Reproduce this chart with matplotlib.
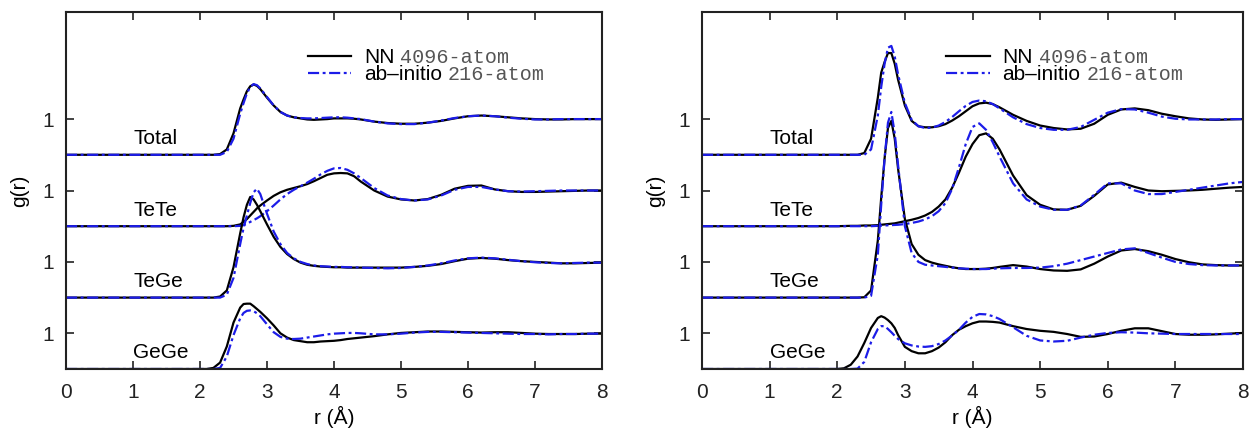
import matplotlib
matplotlib.use('Agg')
import matplotlib.pyplot as plt
import numpy as np

plt.rcParams['font.family'] = ['Liberation Sans', 'DejaVu Sans']

# common r grid (Angstrom)
r = [0.0, 2.0, 2.1, 2.2, 2.3, 2.4, 2.5, 2.6, 2.65, 2.7, 2.75, 2.8, 2.85, 2.9, 3.0, 3.1,
     3.2, 3.3, 3.4, 3.5, 3.6, 3.7, 3.8, 3.9, 4.0, 4.1, 4.2, 4.3, 4.4, 4.6, 4.8, 5.0,
     5.2, 5.4, 5.6, 5.8, 6.0, 6.2, 6.4, 6.6, 6.8, 7.0, 7.2, 7.4, 7.6, 7.8, 8.0]

partials = ['Total', 'TeTe', 'TeGe', 'GeGe']
offsets = [6, 4, 2, 0]

# ---- left panel ----
left_total_nn = [0, 0, 0, 0, 0.02, 0.15, 0.6, 1.3, 1.55, 1.78, 1.92, 1.97, 1.93, 1.84, 1.6, 1.38,
                 1.2, 1.1, 1.05, 1.02, 0.99, 0.98, 0.99, 1.0, 1.02, 1.02, 1.02, 1.01, 0.99, 0.93, 0.89, 0.87,
                 0.87, 0.9, 0.95, 1.02, 1.08, 1.1, 1.08, 1.05, 1.02, 1.0, 0.99, 0.99, 1.0, 1.0, 1.0]
left_total_ai = [0, 0, 0, 0, 0, 0.08, 0.45, 1.15, 1.45, 1.72, 1.9, 1.98, 1.95, 1.86, 1.62, 1.38,
                 1.2, 1.1, 1.05, 1.03, 1.02, 1.02, 1.03, 1.04, 1.05, 1.05, 1.04, 1.02, 1.0, 0.93, 0.88, 0.86,
                 0.86, 0.9, 0.96, 1.03, 1.08, 1.1, 1.08, 1.04, 1.01, 0.99, 0.99, 1.0, 1.0, 1.0, 1.0]
left_tete_nn = [0, 0, 0, 0, 0, 0, 0.01, 0.05, 0.12, 0.2, 0.3, 0.4, 0.5, 0.58, 0.72, 0.85,
                0.95, 1.02, 1.07, 1.12, 1.18, 1.26, 1.35, 1.44, 1.48, 1.49, 1.48, 1.4, 1.25, 1.0, 0.83, 0.75,
                0.72, 0.76, 0.88, 1.05, 1.13, 1.14, 1.03, 0.98, 0.96, 0.96, 0.97, 0.98, 0.99, 1.0, 1.0]
left_tete_ai = [0, 0, 0, 0, 0, 0, 0, 0.01, 0.03, 0.07, 0.12, 0.17, 0.22, 0.28, 0.42, 0.58,
                0.75, 0.9, 1.02, 1.12, 1.22, 1.33, 1.45, 1.55, 1.62, 1.63, 1.58, 1.48, 1.35, 1.07, 0.86, 0.76,
                0.72, 0.75, 0.86, 1.02, 1.1, 1.1, 1.03, 0.98, 0.97, 0.98, 0.99, 1.0, 1.0, 1.0, 1.0]
left_tege_nn = [0, 0, 0, 0, 0.03, 0.2, 0.85, 1.8, 2.25, 2.6, 2.82, 2.75, 2.6, 2.42, 2.05, 1.7,
                1.42, 1.22, 1.08, 0.98, 0.92, 0.89, 0.87, 0.86, 0.85, 0.85, 0.84, 0.84, 0.84, 0.84, 0.84, 0.84,
                0.86, 0.89, 0.94, 1.02, 1.09, 1.11, 1.09, 1.05, 1.02, 1.0, 0.98, 0.96, 0.96, 0.97, 0.98]
left_tege_ai = [0, 0, 0, 0, 0, 0.08, 0.55, 1.5, 1.95, 2.3, 2.65, 2.95, 3.05, 2.9, 2.35, 1.85,
                1.5, 1.25, 1.1, 1.0, 0.94, 0.9, 0.88, 0.87, 0.86, 0.86, 0.85, 0.85, 0.84, 0.83, 0.82, 0.83,
                0.86, 0.9, 0.96, 1.04, 1.1, 1.12, 1.1, 1.06, 1.02, 0.99, 0.97, 0.96, 0.97, 0.98, 0.98]
left_gege_nn = [0, 0, 0, 0.03, 0.18, 0.63, 1.3, 1.72, 1.82, 1.83, 1.83, 1.76, 1.68, 1.6, 1.42, 1.22,
                1.0, 0.88, 0.81, 0.78, 0.75, 0.75, 0.77, 0.78, 0.79, 0.81, 0.84, 0.86, 0.88, 0.92, 0.97, 1.01,
                1.03, 1.05, 1.05, 1.04, 1.03, 1.02, 1.03, 1.03, 1.01, 0.99, 0.98, 0.98, 0.98, 0.99, 0.99]
left_gege_ai = [0, 0, 0, 0, 0.03, 0.35, 0.95, 1.42, 1.57, 1.63, 1.64, 1.62, 1.56, 1.48, 1.25, 1.03,
                0.9, 0.85, 0.84, 0.85, 0.88, 0.91, 0.94, 0.97, 0.99, 1.0, 1.01, 1.01, 1.0, 0.97, 0.97, 0.99,
                1.02, 1.04, 1.04, 1.03, 1.02, 1.01, 1.0, 0.99, 0.98, 0.98, 0.97, 0.98, 0.98, 0.99, 0.99]

# ---- right panel ----
right_total_nn = [0, 0, 0, 0, 0, 0.05, 0.45, 1.6, 2.3, 2.6, 2.85, 2.85, 2.55, 2.1, 1.38, 0.95,
                  0.8, 0.77, 0.77, 0.8, 0.86, 0.96, 1.08, 1.22, 1.36, 1.44, 1.46, 1.42, 1.33, 1.12, 0.95, 0.82,
                  0.75, 0.71, 0.73, 0.87, 1.12, 1.27, 1.3, 1.25, 1.15, 1.08, 1.02, 0.99, 0.98, 0.99, 1.0]
right_total_ai = [0, 0, 0, 0, 0, 0, 0.15, 1.1, 1.9, 2.55, 3.0, 3.05, 2.75, 2.25, 1.45, 0.98,
                  0.8, 0.75, 0.76, 0.82, 0.92, 1.06, 1.22, 1.37, 1.48, 1.52, 1.5, 1.42, 1.3, 1.05, 0.86, 0.75,
                  0.7, 0.7, 0.78, 0.98, 1.18, 1.28, 1.27, 1.18, 1.07, 1.01, 0.99, 0.99, 0.99, 1.0, 1.0]
right_tete_nn = [0, 0, 0.005, 0.01, 0.01, 0.02, 0.02, 0.03, 0.04, 0.05, 0.06, 0.07, 0.08, 0.1, 0.14, 0.18,
                 0.23, 0.3, 0.4, 0.55, 0.75, 1.08, 1.5, 1.95, 2.3, 2.55, 2.6, 2.45, 2.15, 1.42, 0.87, 0.6,
                 0.47, 0.46, 0.57, 0.85, 1.17, 1.22, 1.1, 1.0, 0.98, 0.99, 1.0, 1.02, 1.05, 1.08, 1.1]
right_tete_ai = [0, 0, 0, 0, 0, 0, 0, 0.01, 0.015, 0.02, 0.025, 0.03, 0.035, 0.04, 0.06, 0.09,
                 0.13, 0.19, 0.28, 0.42, 0.65, 1.05, 1.65, 2.3, 2.78, 2.88, 2.7, 2.35, 1.95, 1.2, 0.75, 0.55,
                 0.46, 0.46, 0.58, 0.88, 1.2, 1.2, 1.0, 0.9, 0.9, 0.96, 1.02, 1.08, 1.14, 1.2, 1.24]
right_tege_nn = [0, 0, 0, 0, 0, 0.01, 0.2, 1.6, 2.8, 3.9, 4.75, 4.95, 4.45, 3.6, 2.2, 1.5,
                 1.2, 1.05, 0.98, 0.93, 0.89, 0.85, 0.82, 0.8, 0.8, 0.8, 0.81, 0.83, 0.86, 0.91, 0.87, 0.8,
                 0.76, 0.75, 0.79, 0.95, 1.15, 1.32, 1.36, 1.3, 1.2, 1.08, 0.99, 0.93, 0.91, 0.9, 0.9]
right_tege_ai = [0, 0, 0, 0, 0, 0, 0.05, 1.2, 2.6, 3.9, 4.9, 5.2, 4.6, 3.7, 2.0, 1.25,
                 1.0, 0.92, 0.9, 0.88, 0.86, 0.84, 0.82, 0.81, 0.8, 0.8, 0.8, 0.81, 0.82, 0.83, 0.83, 0.84,
                 0.88, 0.95, 1.05, 1.15, 1.25, 1.35, 1.38, 1.25, 1.12, 1.0, 0.94, 0.91, 0.9, 0.9, 0.9]
right_gege_nn = [0, 0, 0.02, 0.12, 0.35, 0.73, 1.15, 1.43, 1.48, 1.44, 1.37, 1.28, 1.15, 0.95, 0.62, 0.5,
                 0.44, 0.44, 0.5, 0.6, 0.75, 0.95, 1.1, 1.2, 1.28, 1.33, 1.33, 1.32, 1.3, 1.2, 1.12, 1.07,
                 1.04, 0.98, 0.9, 0.91, 0.98, 1.07, 1.14, 1.14, 1.06, 0.98, 0.96, 0.96, 0.97, 0.99, 1.01]
right_gege_ai = [0, 0, 0, 0, 0.01, 0.2, 0.75, 1.12, 1.2, 1.2, 1.12, 1.03, 0.93, 0.84, 0.72, 0.66,
                 0.63, 0.62, 0.64, 0.7, 0.8, 0.94, 1.1, 1.3, 1.46, 1.54, 1.53, 1.48, 1.4, 1.17, 0.93, 0.8,
                 0.77, 0.79, 0.88, 0.96, 1.01, 1.03, 1.02, 1.0, 0.99, 0.98, 0.98, 0.98, 0.98, 0.98, 0.98]

labels_nn = ['NN', '4096-atom']
labels_ai = ['ab–initio', '216-atom']

blue = '#1c1ce8'
fs = 15


def draw_panel(ax, nn_list, ai_list):
    rr = np.array(r)
    for name, off, nn, ai in zip(partials, offsets, nn_list, ai_list):
        l1, = ax.plot(rr, np.array(nn) + off, color='black', lw=1.6)
        l2, = ax.plot(rr, np.array(ai) + off, color=blue, lw=1.6, dashes=(5, 1.6, 1.3, 1.6))
        ax.text(1.0, off + 0.45, name, fontsize=fs, va='center', ha='left')
    ax.set_xlim(0, 8)
    ax.set_ylim(0, 10)
    ax.set_xticks(range(0, 9))
    ax.set_yticks([o + 1 for o in offsets])
    ax.set_yticklabels(['1'] * len(offsets))
    ax.tick_params(direction='in', length=6, width=1.2, top=True, right=True,
                   labelsize=fs, colors='#222222')
    ax.tick_params(axis='x', pad=10)
    ax.tick_params(axis='y', pad=9)
    for s in ax.spines.values():
        s.set_linewidth(1.5)
        s.set_color('#222222')
    ax.set_xlabel('r (Å)', fontsize=fs, labelpad=3)
    ax.set_ylabel('g(r)', fontsize=fs, labelpad=9)
    leg = ax.legend([l1, l2], [labels_nn[0], labels_ai[0]], loc='upper left',
                    bbox_to_anchor=(0.451, 0.898), frameon=False, fontsize=fs,
                    handlelength=2.1, handletextpad=0.6, labelspacing=-0.1,
                    borderpad=0, borderaxespad=0)
    return leg


fig = plt.figure(figsize=(12.53, 4.32), dpi=100)
ax1 = fig.add_axes([66 / 1253, 63 / 432, 536 / 1253, 357 / 432])
ax2 = fig.add_axes([702 / 1253, 63 / 432, 541 / 1253, 357 / 432])

legs = []
legs.append(draw_panel(ax1, [left_total_nn, left_tete_nn, left_tege_nn, left_gege_nn],
                       [left_total_ai, left_tete_ai, left_tege_ai, left_gege_ai]))
legs.append(draw_panel(ax2, [right_total_nn, right_tete_nn, right_tege_nn, right_gege_nn],
                       [right_total_ai, right_tete_ai, right_tege_ai, right_gege_ai]))

# monospace system-size text next to the legend labels
fig.canvas.draw()
W, H = fig.canvas.get_width_height()
for leg in legs:
    for t, extra in zip(leg.get_texts(), [labels_nn[1], labels_ai[1]]):
        bb = t.get_window_extent()
        fig.text((bb.x1 + 6) / W, (bb.y0 + bb.y1) / 2 / H, extra, fontsize=14.5,
                 family='Liberation Mono', color='#555555', va='center', ha='left')

fig.savefig('out.png', dpi=100)
